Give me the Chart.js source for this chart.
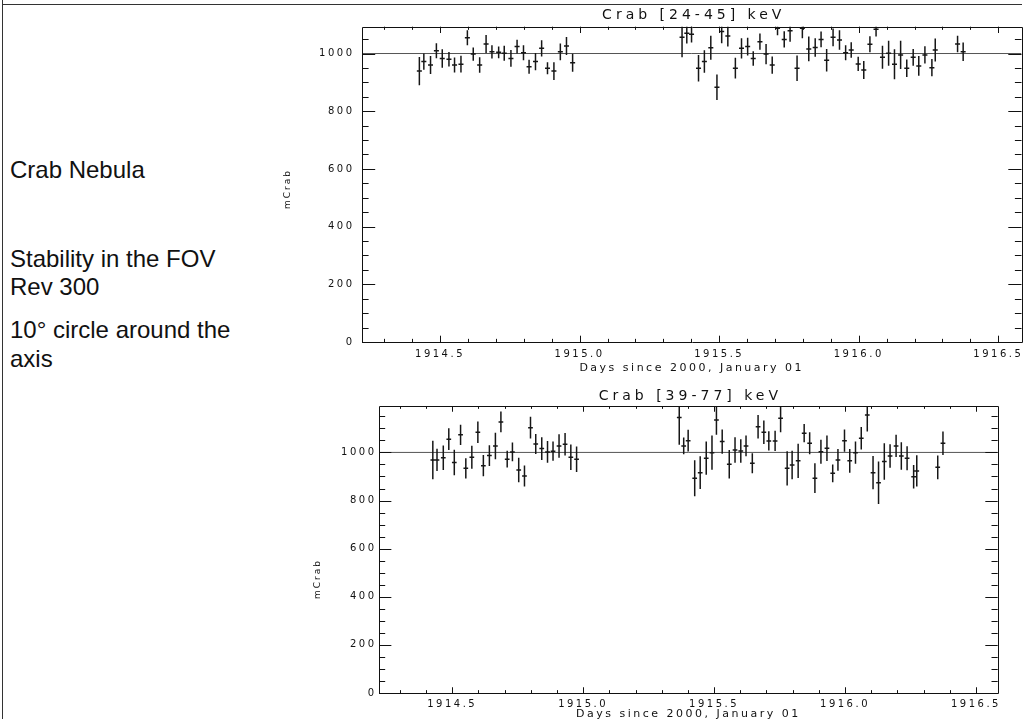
<!DOCTYPE html>
<html>
<head>
<meta charset="utf-8">
<title>Crab Nebula - stability in the FOV</title>
<script src="https://cdn.jsdelivr.net/npm/chart.js@4.4.1/dist/chart.umd.min.js"></script>
<style>
  body { margin: 0; width: 1032px; height: 719px; background: #fff; position: relative; overflow: hidden;
         font-family: "Liberation Sans", Arial, sans-serif; color: #111; }
  #edge-left { position: absolute; left: 2px; top: 0; width: 1px; height: 719px; background: #333; }
  #edge-top { position: absolute; left: 2px; top: 4px; width: 1020px; height: 1px; background: #333; }
  .note { position: absolute; left: 10px; font-size: 24px; line-height: 28px; white-space: nowrap; }
  .plot { position: absolute; left: 280px; }
</style>
</head>
<body>
<div id="edge-left"></div>
<div id="edge-top"></div>
<div class="note" style="top:156px">Crab Nebula</div>
<div class="note" style="top:245px">Stability in the FOV</div>
<div class="note" style="top:273px">Rev 300</div>
<div class="note" style="top:316px">10° circle around the</div>
<div class="note" style="top:345px">axis</div>

<canvas id="plot-low" class="plot" style="top:0" width="752" height="382"></canvas>
<canvas id="plot-high" class="plot" style="top:382px" width="752" height="345"></canvas>

<script>
// time bins (days since 2000 Jan 01), shared by both energy bands
const times = [
  1914.426, 1914.442, 1914.466, 1914.487, 1914.508, 1914.532, 1914.552, 1914.575, 1914.598,
  1914.619, 1914.642, 1914.665, 1914.686, 1914.710, 1914.730, 1914.754, 1914.776, 1914.799,
  1914.819, 1914.842, 1914.864, 1914.885, 1914.908, 1914.931, 1914.953, 1914.975,
  1915.367, 1915.384, 1915.401, 1915.426, 1915.447, 1915.470, 1915.492, 1915.509, 1915.531,
  1915.558, 1915.580, 1915.602, 1915.622, 1915.646, 1915.668, 1915.690, 1915.709, 1915.733,
  1915.754, 1915.779, 1915.798, 1915.821, 1915.844, 1915.865, 1915.885, 1915.908, 1915.931,
  1915.953, 1915.973, 1915.998, 1916.018, 1916.040, 1916.062, 1916.085, 1916.107, 1916.128,
  1916.150, 1916.172, 1916.195, 1916.215, 1916.237, 1916.262, 1916.274, 1916.354, 1916.374
];

// Crab [24-45] keV, mCrab
const rate24 = [
  939, 972, 960, 1010, 983, 980, 960, 963, 1055, 998, 960, 1033, 1006, 1004, 1001, 983, 1024,
  1003, 954, 972, 1018, 949, 939, 1006, 1026, 968,
  1056, 1070, 1067, 949, 972, 1020, 883, 1076, 1061, 949, 1018, 1024, 983, 1041, 998, 960,
  1088, 1049, 1079, 949, 1088, 1016, 1021, 1049, 977, 1056, 1047, 1003, 1012, 964, 943, 1032,
  1084, 987, 1001, 963, 995, 949, 987, 957, 995, 951, 1012, 1033, 1006
];
const err24 = [
  49, 28, 31, 26, 32, 25, 26, 29, 26, 23, 27, 31, 23, 20, 26, 29, 24, 26, 24, 30, 28, 21, 31,
  29, 31, 31,
  69, 35, 29, 46, 39, 42, 44, 40, 37, 36, 35, 31, 25, 28, 35, 30, 25, 28, 38, 44, 35, 43, 32,
  27, 39, 31, 34, 26, 27, 25, 31, 28, 25, 40, 43, 52, 49, 30, 29, 34, 30, 30, 40, 29, 32
];

// Crab [39-77] keV, mCrab
const rate39 = [
  969, 969, 978, 1055, 958, 1073, 934, 980, 1084, 945, 987, 1027, 1127, 972, 1002, 927, 902,
  1103, 1035, 1016, 1002, 1005, 1027, 1034, 980, 972,
  1145, 1027, 1049, 893, 916, 976, 999, 1135, 1045, 951, 1010, 1006, 1027, 955, 1107, 1084,
  1048, 1048, 1142, 934, 948, 965, 1080, 1038, 893, 1003, 1017, 913, 969, 1049, 965, 999,
  1059, 1156, 916, 874, 962, 985, 1027, 985, 976, 899, 923, 938, 1038
];
const err39 = [
  80, 46, 51, 45, 53, 42, 42, 48, 45, 44, 43, 55, 43, 35, 39, 51, 44, 45, 42, 47, 45, 40, 49,
  47, 53, 53,
  113, 35, 45, 75, 68, 69, 71, 62, 50, 59, 53, 49, 43, 42, 49, 49, 40, 42, 58, 71, 59, 71, 38,
  46, 62, 50, 53, 37, 45, 46, 49, 46, 47, 69, 69, 88, 76, 49, 46, 57, 50, 49, 65, 49, 49
];

// labelled ticks
const xTicks = [1914.5, 1915.0, 1915.5, 1916.0, 1916.5];
const yTicks = [0, 200, 400, 600, 800, 1000];

const binHalf = 0.009;        // half width of a time bin, days
const refLevel = 1000;        // nominal Crab flux
const xRange = [1914.2205, 1916.583];
const xMinorStep = 0.1, yMinorStep = 50;

// IDL-like wide lettering for all axis text
const spacing = {
    id: 'spacing',
    beforeDraw(chart) { chart.ctx.letterSpacing = '2.5px'; }
};

// error crosses, clipped to the plot box
const errorBars = {
    id: 'errorBars',
    afterDatasetsDraw(chart) {
        const { ctx, chartArea: a, scales: { x, y } } = chart;
        ctx.save();
        ctx.beginPath();
        ctx.rect(a.left, a.top, a.right - a.left, a.bottom - a.top);
        ctx.clip();
        ctx.strokeStyle = '#161616';
        ctx.lineWidth = 1.5;
        ctx.beginPath();
        chart.data.datasets.forEach(ds => {
            if (!ds.errorBars) return;
            ds.data.forEach(p => {
                const px = x.getPixelForValue(p.x);
                const py = y.getPixelForValue(p.y);
                ctx.moveTo(px, y.getPixelForValue(p.y - p.yErr));
                ctx.lineTo(px, y.getPixelForValue(p.y + p.yErr));
                ctx.moveTo(x.getPixelForValue(p.x - binHalf), py);
                ctx.lineTo(x.getPixelForValue(p.x + binHalf), py);
            });
        });
        ctx.stroke();
        ctx.restore();
    }
};

const isMajor = (v, list) => list.some(t => Math.abs(t - v) < 1e-6);

// box with inward major/minor ticks on all four sides, plot title and y title
const idlFrame = {
    id: 'idlFrame',
    afterDraw(chart, args, opts) {
        const { ctx, chartArea: a, scales: { x, y } } = chart;
        const w = a.right - a.left, h = a.bottom - a.top;
        const xMaj = 0.02 * h, yMaj = 0.02 * w;
        ctx.save();
        ctx.strokeStyle = '#111';
        ctx.lineWidth = 1;
        ctx.beginPath();
        ctx.rect(Math.round(a.left) + 0.5, Math.round(a.top) + 0.5, Math.round(w), Math.round(h));
        for (let k = Math.ceil(x.min / xMinorStep - 1e-6); k <= Math.floor(x.max / xMinorStep + 1e-6); k++) {
            const v = k * xMinorStep;
            const px = Math.round(x.getPixelForValue(v)) + 0.5;
            const len = isMajor(v, xTicks) ? xMaj : xMaj / 2;
            ctx.moveTo(px, a.bottom); ctx.lineTo(px, a.bottom - len);
            ctx.moveTo(px, a.top); ctx.lineTo(px, a.top + len);
        }
        for (let k = 0; k * yMinorStep <= y.max; k++) {
            const v = k * yMinorStep;
            const py = Math.round(y.getPixelForValue(v)) + 0.5;
            const len = isMajor(v, yTicks) ? yMaj : yMaj / 2;
            ctx.moveTo(a.left, py); ctx.lineTo(a.left + len, py);
            ctx.moveTo(a.right, py); ctx.lineTo(a.right - len, py);
        }
        ctx.stroke();

        ctx.fillStyle = '#111';
        ctx.textAlign = 'center';
        ctx.textBaseline = 'middle';

        ctx.letterSpacing = '4px';
        ctx.font = '14px "DejaVu Sans"';
        ctx.fillText(opts.text, (a.left + a.right) / 2 + 2, opts.y);

        // y title sits a little below the middle of the axis, as in the original
        ctx.letterSpacing = '2px';
        ctx.font = '9px "DejaVu Sans"';
        ctx.translate(opts.yTitleX, opts.yTitleY);
        ctx.rotate(-Math.PI / 2);
        ctx.fillText('mCrab', 1, 0);
        ctx.restore();
    }
};

function makePlot(id, title, rates, errs, g) {
    const ctx = document.getElementById(id).getContext('2d');
    const points = times.map((t, i) => ({ x: t, y: rates[i], yErr: errs[i] }));
    const axisFont = { family: '"DejaVu Sans"', size: 10 };

    return new Chart(ctx, {
        data: {
            datasets: [{
                type: 'line',
                data: [{ x: xRange[0], y: refLevel }, { x: xRange[1], y: refLevel }],
                borderColor: '#555',
                borderWidth: 1,
                pointRadius: 0
            }, {
                type: 'scatter',
                data: points,
                errorBars: true,
                pointRadius: 0,
                pointHoverRadius: 0
            }]
        },
        options: {
            responsive: false,
            animation: false,
            layout: { padding: { top: g.top, right: g.right, left: 0, bottom: 0 } },
            plugins: {
                legend: { display: false },
                tooltip: { enabled: false },
                idlFrame: { text: title, y: g.titleY, yTitleX: g.yTitleX, yTitleY: g.yTitleY }
            },
            scales: {
                x: {
                    type: 'linear',
                    min: xRange[0],
                    max: xRange[1],
                    grid: { display: false, drawTicks: false },
                    border: { display: false },
                    afterBuildTicks: s => { s.ticks = xTicks.map(v => ({ value: v })); },
                    afterFit: s => { s.height = g.xAxis; },
                    ticks: {
                        padding: g.xPad,
                        color: '#111',
                        font: axisFont,
                        maxRotation: 0,
                        autoSkip: false,
                        callback: v => v.toFixed(1)
                    },
                    title: {
                        display: true,
                        text: 'Days since 2000, January 01',
                        color: '#111',
                        font: { family: '"DejaVu Sans"', size: 11 },
                        padding: { top: 0, bottom: g.xTitlePad }
                    }
                },
                y: {
                    min: 0,
                    max: g.yMax,
                    grid: { display: false, drawTicks: false },
                    border: { display: false },
                    afterBuildTicks: s => { s.ticks = yTicks.map(v => ({ value: v })); },
                    afterFit: s => { s.width = g.yAxis; },
                    ticks: {
                        padding: g.yPad,
                        color: '#111',
                        font: axisFont,
                        autoSkip: false,
                        callback: v => String(v)
                    }
                }
            }
        },
        plugins: [spacing, errorBars, idlFrame]
    });
}

makePlot('plot-low', 'Crab [24-45] keV', rate24, err24, {
    top: 26.7, right: 10.5, yAxis: 82, xAxis: 40, yMax: 1093,
    xPad: 6, yPad: 7.5, xTitlePad: 7.4, titleY: 15, yTitleX: 8, yTitleY: 190
});
makePlot('plot-high', 'Crab [39-77] keV', rate39, err39, {
    top: 24, right: 34.3, yAxis: 99, xAxis: 34, yMax: 1193,
    xPad: 5, yPad: 2.5, xTitlePad: 6.4, titleY: 14, yTitleX: 38, yTitleY: 198
});
</script>
</body>
</html>
